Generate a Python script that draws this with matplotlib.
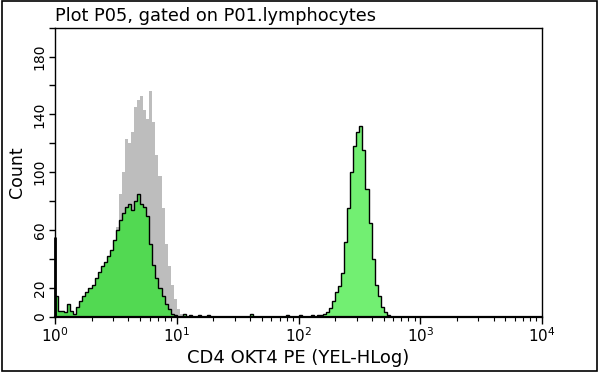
import numpy as np
import matplotlib
matplotlib.use("Agg")
import matplotlib.pyplot as plt
from matplotlib.patches import Rectangle

# ---------------- data (counts per channel, 0.025-decade channels) ----------------
CHANNEL_WIDTH_DECADES = 0.025
N_CHANNELS = 160                      # 10^0 .. 10^4

# stained sample, low (CD4-negative) population, channels starting at 10^0
green_low_start = 0.0
green_low = [14, 4, 4, 3, 9, 4, 2, 7, 11, 14,
             17, 20, 22, 27, 31, 35, 38, 42, 46, 53,
             60, 67, 72, 76, 78, 74, 80, 85, 78, 76,
             70, 50, 36, 27, 20, 14, 9, 5, 2, 1]
first_channel_pileup = 55

# stained sample, CD4-positive population
green_high_start = 2.15
green_high = [1, 1, 2, 3, 6, 11, 17, 21, 30, 52,
              75, 100, 118, 128, 132, 115, 88, 65, 40, 22,
              14, 7, 3, 1]

# isotype / unstained control (grey)
gray_start = 0.35
gray = [2, 5, 10, 18, 28, 40, 62, 85, 100, 123,
        120, 128, 145, 150, 153, 143, 137, 156, 135, 112,
        97, 75, 50, 35, 22, 12, 5, 2, 1]

# sparse background events
noise_pos = [1.06, 1.11, 1.18, 1.26, 1.60, 1.90, 2.00, 2.10]
noise_counts = [2, 1, 1, 1, 2, 1, 1, 1]

y_ticks = [0, 20, 40, 60, 80, 100, 120, 140, 160, 180, 200]
y_tick_labels = ["0", "20", "", "60", "", "100", "", "140", "", "180", ""]
x_ticks = [1, 10, 100, 1000, 10000]
x_tick_labels = ["$10^0$", "$10^1$", "$10^2$", "$10^3$", "$10^4$"]

title = "Plot P05, gated on P01.lymphocytes"
xlabel = "CD4 OKT4 PE (YEL-HLog)"
ylabel = "Count"

# ---------------- build histograms ----------------
edges = 10 ** (np.arange(N_CHANNELS + 1) * CHANNEL_WIDTH_DECADES)

def place(start, vals):
    arr = np.zeros(N_CHANNELS)
    i0 = int(round(start / CHANNEL_WIDTH_DECADES))
    arr[i0:i0 + len(vals)] = vals
    return arr

low_arr = place(green_low_start, green_low)
high_arr = place(green_high_start, green_high)
for p, c in zip(noise_pos, noise_counts):
    high_arr[int(round(p / CHANNEL_WIDTH_DECADES))] = c
gray_arr = place(gray_start, gray)
total_green = low_arr + high_arr

# ---------------- plot ----------------
plt.rcParams['font.family'] = ['DejaVu Sans']
plt.rcParams['mathtext.default'] = 'regular'

fig = plt.figure(figsize=(6.0, 3.73), dpi=100)
ax = fig.add_axes([0.0917, 0.151, 0.8116, 0.775])

ax.stairs(gray_arr, edges, fill=True, color='#bdbdbd', lw=0)
ax.stairs(low_arr, edges, fill=True, color='#52d952', lw=0)
ax.stairs(high_arr, edges, fill=True, color='#72ef72', lw=0)
ax.stairs(total_green, edges, fill=False, color='black', lw=1.0, baseline=0)
ax.vlines(edges[0] * 1.008, 0, first_channel_pileup, color='black', lw=2.0, clip_on=False)

ax.set_xscale('log')
ax.set_xlim(edges[0], edges[-1])
ax.set_ylim(0, 200)

ax.set_xticks(x_ticks)
ax.set_xticklabels(x_tick_labels, fontsize=11)
ax.set_yticks(y_ticks)
ax.set_yticklabels(y_tick_labels, fontsize=10, rotation=90, va='center')
ax.tick_params(axis='x', which='major', direction='out', length=5, width=1, pad=2)
ax.tick_params(axis='x', which='minor', direction='out', length=3, width=0.8)
ax.tick_params(axis='y', which='major', direction='out', length=4, width=1, pad=2)

for s in ax.spines.values():
    s.set_linewidth(1.0)
ax.spines['bottom'].set_linewidth(1.6)

ax.set_xlabel(xlabel, fontsize=13, labelpad=3)
ax.set_ylabel(ylabel, fontsize=12.5, labelpad=5)
ax.set_title(title, fontsize=12.8, loc='left', pad=5)

fig.patches.append(Rectangle((0.004, 0.006), 0.991, 0.99, transform=fig.transFigure,
                             fill=False, edgecolor='black', lw=1.2))

fig.savefig('out.png', dpi=100)
